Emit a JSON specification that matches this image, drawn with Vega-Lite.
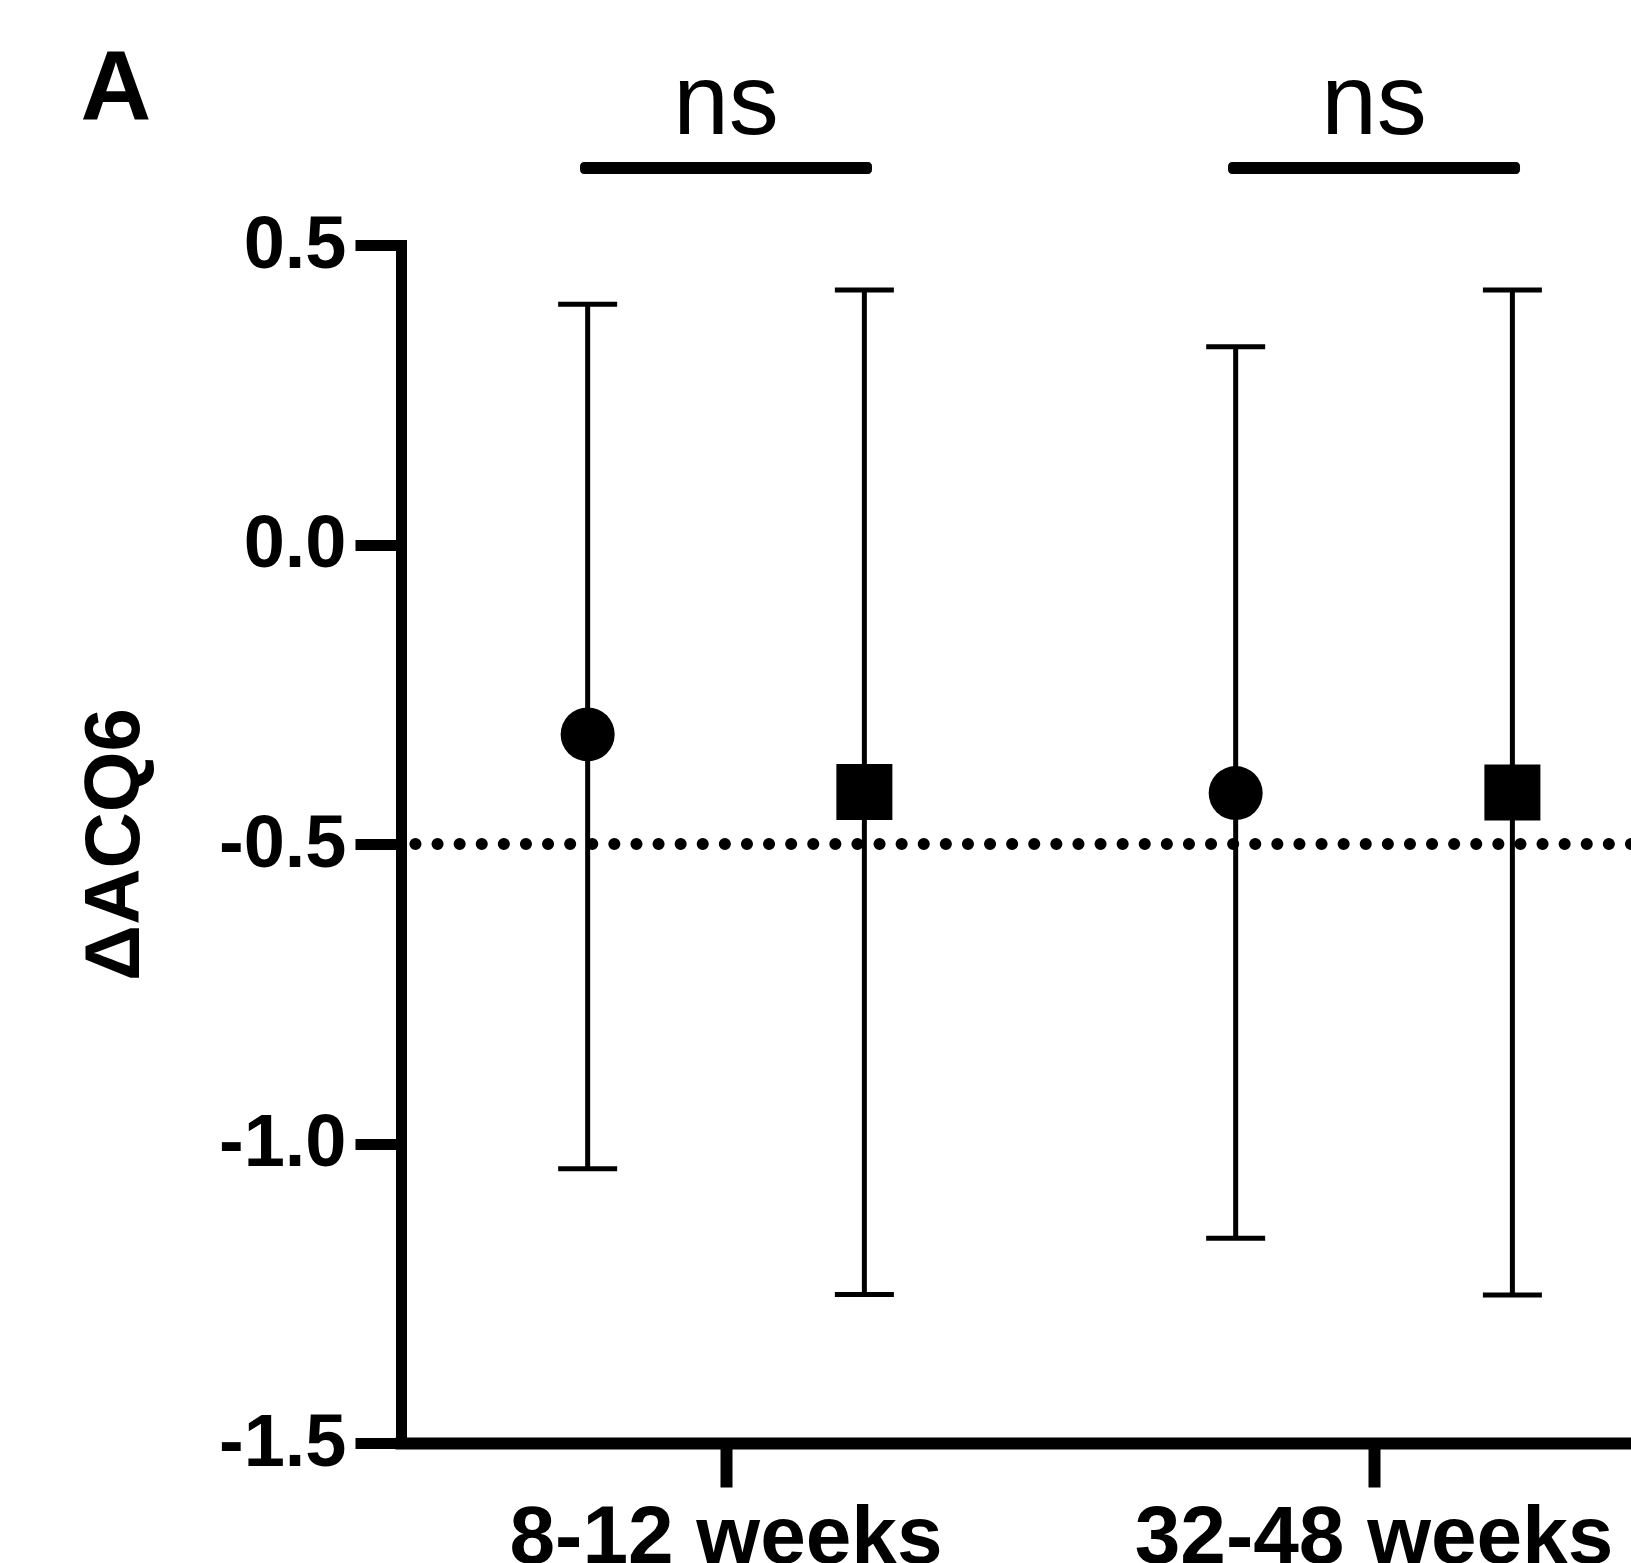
{
  "$schema": "https://vega.github.io/schema/vega-lite/v6.json",
  "width": 1230,
  "height": 1198,
  "autosize": "none",
  "padding": {"left": 401, "top": 245, "right": 0, "bottom": 120},
  "background": "white",
  "config": {"view": {"stroke": null}, "font": "Liberation Sans"},
  "title": {"text": "A", "anchor": "start", "frame": "bounds", "fontSize": 98, "fontWeight": "bold", "font": "Liberation Sans", "color": "black", "offset": 0, "dx": 4, "dy": 86},
  "datasets": {
    "stats": [
      {"period": "8-12 weeks", "arm": "Group 1", "mean": -0.317, "lo": -1.042, "hi": 0.401},
      {"period": "8-12 weeks", "arm": "Group 2", "mean": -0.413, "lo": -1.252, "hi": 0.425},
      {"period": "32-48 weeks", "arm": "Group 1", "mean": -0.415, "lo": -1.158, "hi": 0.330},
      {"period": "32-48 weeks", "arm": "Group 2", "mean": -0.414, "lo": -1.253, "hi": 0.425}
    ],
    "sig": [
      {"period": "8-12 weeks", "label": "ns"},
      {"period": "32-48 weeks", "label": "ns"}
    ]
  },
  "layer": [
    {
      "data": {"name": "stats"},
      "mark": {"type": "rule", "strokeWidth": 5, "color": "black"},
      "encoding": {
        "x": {"field": "period", "type": "nominal", "sort": ["8-12 weeks", "32-48 weeks"],
          "scale": {"paddingInner": 0.2069, "paddingOuter": 0.0525, "align": 1},
          "axis": {"title": null, "labelAngle": 0, "labelFont": "Liberation Sans", "labelFontSize": 82, "labelFontWeight": "bold", "labelColor": "black", "labelLimit": 0, "labelPadding": 10, "tickSize": 44, "tickWidth": 12, "tickColor": "black", "domainColor": "black", "domainWidth": 12, "domainCap": "square", "grid": false}},
        "xOffset": {"field": "arm", "type": "nominal", "sort": ["Group 1", "Group 2"], "scale": {"paddingInner": 0.1427, "paddingOuter": 0}},
        "y": {"field": "lo", "type": "quantitative",
          "scale": {"domain": [-1.5, 0.5], "nice": false, "zero": false},
          "axis": {"values": [-1.5, -1, -0.5, 0, 0.5], "labelExpr": "datum.value < 0 ? '-' + format(abs(datum.value), '.1f') : format(datum.value, '.1f')", "labelFont": "Liberation Sans", "labelFontSize": 74, "labelFontWeight": "bold", "labelColor": "black", "labelPadding": 9, "labelLimit": 0, "tickSize": 46, "tickWidth": 11, "tickColor": "black", "domainColor": "black", "domainWidth": 11, "domainCap": "square", "grid": false, "title": "ΔACQ6", "titleFont": "Liberation Sans", "titleFontSize": 78, "titleFontWeight": "bold", "titleColor": "black", "titlePadding": 64}},
        "y2": {"field": "hi"}
      }
    },
    {
      "data": {"name": "stats"},
      "mark": {"type": "tick", "size": 59, "thickness": 5, "color": "black", "opacity": 1},
      "encoding": {
        "x": {"field": "period", "type": "nominal", "sort": ["8-12 weeks", "32-48 weeks"]},
        "xOffset": {"field": "arm", "type": "nominal", "sort": ["Group 1", "Group 2"]},
        "y": {"field": "lo", "type": "quantitative"}
      }
    },
    {
      "data": {"name": "stats"},
      "mark": {"type": "tick", "size": 59, "thickness": 5, "color": "black", "opacity": 1},
      "encoding": {
        "x": {"field": "period", "type": "nominal", "sort": ["8-12 weeks", "32-48 weeks"]},
        "xOffset": {"field": "arm", "type": "nominal", "sort": ["Group 1", "Group 2"]},
        "y": {"field": "hi", "type": "quantitative"}
      }
    },
    {
      "data": {"name": "stats"},
      "mark": {"type": "point", "filled": true, "opacity": 1, "color": "black", "strokeWidth": 0},
      "encoding": {
        "x": {"field": "period", "type": "nominal", "sort": ["8-12 weeks", "32-48 weeks"]},
        "xOffset": {"field": "arm", "type": "nominal", "sort": ["Group 1", "Group 2"]},
        "y": {"field": "mean", "type": "quantitative"},
        "shape": {"field": "arm", "type": "nominal", "scale": {"domain": ["Group 1", "Group 2"], "range": ["circle", "square"]}, "legend": null},
        "size": {"field": "arm", "type": "ordinal", "scale": {"domain": ["Group 1", "Group 2"], "range": [2916, 3136]}, "legend": null}
      }
    },
    {
      "data": {"values": [{"ref": -0.5}]},
      "mark": {"type": "rule", "strokeWidth": 12, "strokeDash": [0.1, 22], "strokeCap": "round", "color": "black"},
      "encoding": {
        "y": {"field": "ref", "type": "quantitative"}
      }
    },
    {
      "data": {"name": "sig"},
      "mark": {"type": "tick", "size": 292, "thickness": 12, "cornerRadius": 4, "color": "black", "opacity": 1},
      "encoding": {
        "x": {"field": "period", "type": "nominal", "sort": ["8-12 weeks", "32-48 weeks"]},
        "y": {"datum": 0.6285, "type": "quantitative"}
      }
    },
    {
      "data": {"name": "sig"},
      "mark": {"type": "text", "font": "Liberation Sans", "fontSize": 100, "baseline": "alphabetic", "align": "center", "color": "black"},
      "encoding": {
        "x": {"field": "period", "type": "nominal", "sort": ["8-12 weeks", "32-48 weeks"]},
        "y": {"datum": 0.6845, "type": "quantitative"},
        "text": {"field": "label"}
      }
    }
  ]
}
